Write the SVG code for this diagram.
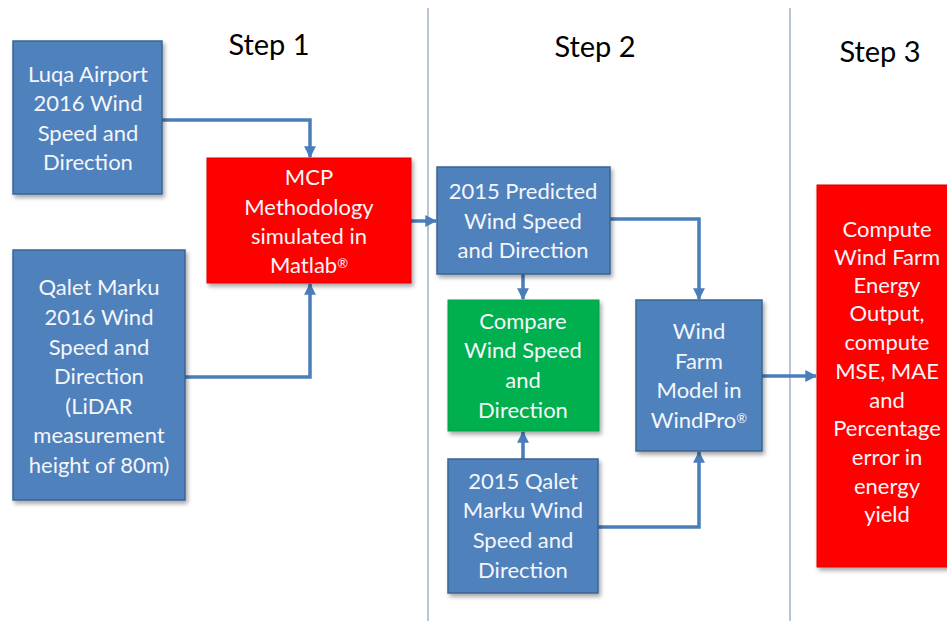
<svg xmlns="http://www.w3.org/2000/svg" width="947" height="621" viewBox="0 0 947 621">
<defs>
<filter id="sh" x="-10%" y="-10%" width="130%" height="130%">
<feDropShadow dx="2" dy="3" stdDeviation="2" flood-color="#000" flood-opacity="0.35"/>
</filter>
<marker id="ah" viewBox="0 0 10 10" refX="9" refY="5" markerWidth="3.4" markerHeight="3.4" orient="auto" markerUnits="strokeWidth">
<path d="M0,0 L10,5 L0,10 z" fill="#4a7ebb"/>
</marker>
</defs>
<style>
.blue{fill:#4f81bd;stroke:#3a6595;stroke-width:1.5;filter:url(#sh)}
.red{fill:#ff0000;stroke:#e00000;stroke-width:1;filter:url(#sh)}
.green{fill:#00b050;stroke:#00a048;stroke-width:1;filter:url(#sh)}
.t{font-family:Lato,"Liberation Sans",sans-serif;font-size:22px;fill:#f4f6fa;text-anchor:middle}
.sup{font-size:13px;baseline-shift:40%}
.step{font-family:Lato,"Liberation Sans",sans-serif;font-size:29px;fill:#000;text-anchor:middle}
.c{fill:none;stroke:#4a7ebb;stroke-width:3.5;marker-end:url(#ah)}
.div{stroke:#8a9cbc;stroke-width:1.2}
</style>
<rect width="947" height="621" fill="#ffffff"/>
<line class="div" x1="428" y1="8" x2="428" y2="621"/>
<line class="div" x1="790" y1="8" x2="790" y2="621"/>
<text class="step" x="269" y="55">Step 1</text>
<text class="step" x="595" y="57">Step 2</text>
<text class="step" x="880" y="62">Step 3</text>
<g id="connectors">
<path class="c" d="M162,120 H310 V157"/>
<path class="c" d="M185,377 H310 V284"/>
<path class="c" d="M411,221 H436"/>
<path class="c" d="M523,274 V299"/>
<path class="c" d="M610,219 H699 V299"/>
<path class="c" d="M523,459 V432"/>
<path class="c" d="M598,527 H699 V452"/>
<path class="c" d="M762,376 H816"/>
</g>
<g id="luqa">
<rect class="blue" x="13" y="41" width="149" height="153"/>
<text class="t" x="88" y="82">Luqa Airport</text>
<text class="t" x="88" y="111">2016 Wind</text>
<text class="t" x="88" y="141">Speed and</text>
<text class="t" x="88" y="170">Direction</text>
</g>
<g id="qalet2016">
<rect class="blue" x="13" y="250" width="172" height="250"/>
<text class="t" x="99" y="295">Qalet Marku</text>
<text class="t" x="99" y="325">2016 Wind</text>
<text class="t" x="99" y="355">Speed and</text>
<text class="t" x="99" y="384">Direction</text>
<text class="t" x="99" y="414">(LiDAR</text>
<text class="t" x="99" y="443">measurement</text>
<text class="t" x="99" y="473">height of 80m)</text>
</g>
<g id="mcp">
<rect class="red" x="207" y="158" width="204" height="125"/>
<text class="t" x="309" y="185">MCP</text>
<text class="t" x="309" y="215">Methodology</text>
<text class="t" x="309" y="244">simulated in</text>
<text class="t" x="309" y="273">Matlab<tspan class="sup">®</tspan></text>
</g>
<g id="predicted">
<rect class="blue" x="437" y="167" width="173" height="107"/>
<text class="t" x="523" y="199">2015 Predicted</text>
<text class="t" x="523" y="229">Wind Speed</text>
<text class="t" x="523" y="258">and Direction</text>
</g>
<g id="compare">
<rect class="green" x="448" y="300" width="151" height="131"/>
<text class="t" x="523" y="329">Compare</text>
<text class="t" x="523" y="358">Wind Speed</text>
<text class="t" x="523" y="388">and</text>
<text class="t" x="523" y="418">Direction</text>
</g>
<g id="windfarm">
<rect class="blue" x="636" y="300" width="126" height="151"/>
<text class="t" x="699" y="339">Wind</text>
<text class="t" x="699" y="369">Farm</text>
<text class="t" x="699" y="398">Model in</text>
<text class="t" x="699" y="428">WindPro<tspan class="sup">®</tspan></text>
</g>
<g id="qalet2015">
<rect class="blue" x="448" y="459" width="150" height="134"/>
<text class="t" x="523" y="489">2015 Qalet</text>
<text class="t" x="523" y="518">Marku Wind</text>
<text class="t" x="523" y="548">Speed and</text>
<text class="t" x="523" y="578">Direction</text>
</g>
<g id="compute">
<rect class="red" x="817" y="185" width="140" height="382"/>
<text class="t" x="887" y="237">Compute</text>
<text class="t" x="887" y="265">Wind Farm</text>
<text class="t" x="887" y="293">Energy</text>
<text class="t" x="887" y="321">Output,</text>
<text class="t" x="887" y="350">compute</text>
<text class="t" x="887" y="379">MSE, MAE</text>
<text class="t" x="887" y="408">and</text>
<text class="t" x="887" y="436">Percentage</text>
<text class="t" x="887" y="465">error in</text>
<text class="t" x="887" y="494">energy</text>
<text class="t" x="887" y="522">yield</text>
</g>
</svg>
